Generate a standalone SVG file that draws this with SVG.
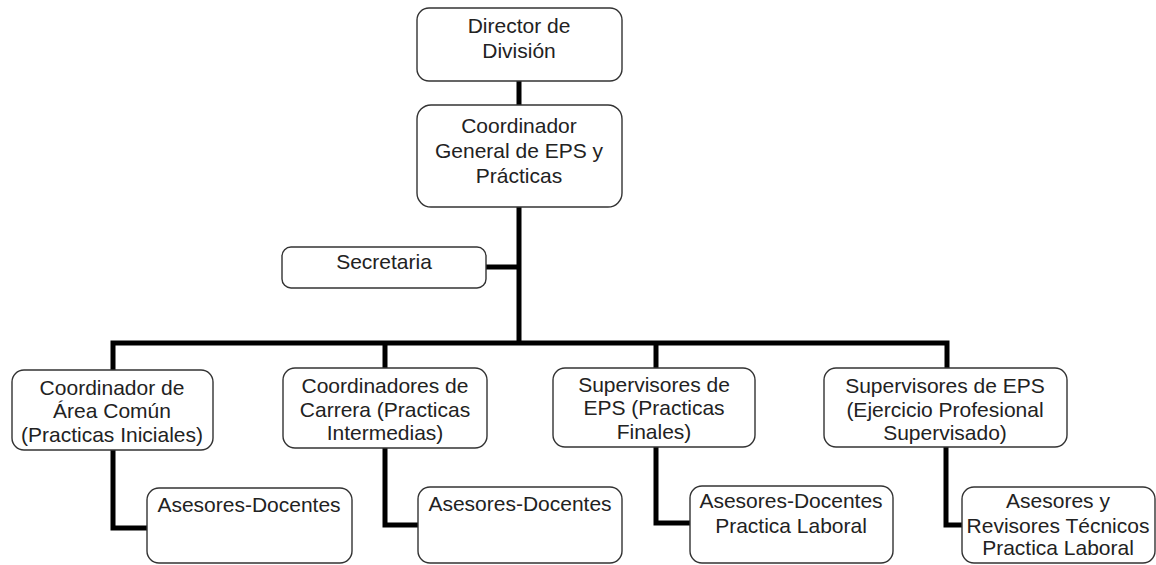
<svg xmlns="http://www.w3.org/2000/svg" width="1156" height="565" viewBox="0 0 1156 565">
<style>
.box{fill:#fff;stroke:#333;stroke-width:1.4}
.t{font-family:"Liberation Sans",Arial,sans-serif;font-size:21px;fill:#222;text-anchor:middle}
.c{fill:none;stroke:#000;stroke-width:5;stroke-linejoin:miter}
</style>
<rect width="1156" height="565" fill="#fff"/>
<g id="connectors">
<path class="c" d="M519 81V343"/>
<path class="c" d="M486 267H519"/>
<path class="c" d="M113 370V343H947V368"/>
<path class="c" d="M385 343V368"/>
<path class="c" d="M656 343V368"/>
<path class="c" d="M113 450V528H147"/>
<path class="c" d="M385 448V525H418"/>
<path class="c" d="M656 447V523H690"/>
<path class="c" d="M946 447V525H962"/>
</g>
<g id="director">
<rect class="box" x="417" y="8" width="205" height="73" rx="12"/>
<text class="t" x="519" y="33">Director de</text>
<text class="t" x="519" y="58">División</text>
</g>
<g id="coordinador-general">
<rect class="box" x="417" y="105" width="205" height="102" rx="14"/>
<text class="t" x="519" y="133">Coordinador</text>
<text class="t" x="519" y="158">General de EPS y</text>
<text class="t" x="519" y="183">Prácticas</text>
</g>
<g id="secretaria">
<rect class="box" x="282" y="247" width="204" height="41" rx="9"/>
<text class="t" x="384" y="269">Secretaria</text>
</g>
<g id="coord-area-comun">
<rect class="box" x="12" y="370" width="201" height="80" rx="12"/>
<text class="t" x="112" y="395">Coordinador de</text>
<text class="t" x="112" y="418">Área Común</text>
<text class="t" x="112" y="442">(Practicas Iniciales)</text>
</g>
<g id="coord-carrera">
<rect class="box" x="283" y="368" width="204" height="80" rx="12"/>
<text class="t" x="385" y="393">Coordinadores de</text>
<text class="t" x="385" y="417">Carrera (Practicas</text>
<text class="t" x="385" y="440">Intermedias)</text>
</g>
<g id="supervisores-finales">
<rect class="box" x="553" y="368" width="202" height="79" rx="12"/>
<text class="t" x="654" y="392">Supervisores de</text>
<text class="t" x="654" y="415">EPS (Practicas</text>
<text class="t" x="654" y="439">Finales)</text>
</g>
<g id="supervisores-eps">
<rect class="box" x="824" y="368" width="243" height="79" rx="12"/>
<text class="t" x="945" y="393">Supervisores de EPS</text>
<text class="t" x="945" y="417">(Ejercicio Profesional</text>
<text class="t" x="945" y="440">Supervisado)</text>
</g>
<g id="asesores-1">
<rect class="box" x="147" y="488" width="205" height="75" rx="12"/>
<text class="t" x="249" y="512">Asesores-Docentes</text>
</g>
<g id="asesores-2">
<rect class="box" x="418" y="487" width="204" height="76" rx="12"/>
<text class="t" x="520" y="511">Asesores-Docentes</text>
</g>
<g id="asesores-3">
<rect class="box" x="690" y="486" width="203" height="77" rx="12"/>
<text class="t" x="791" y="508">Asesores-Docentes</text>
<text class="t" x="791" y="533">Practica Laboral</text>
</g>
<g id="asesores-4">
<rect class="box" x="962" y="487" width="193" height="76" rx="12"/>
<text class="t" x="1058" y="508">Asesores y</text>
<text class="t" x="1058" y="533">Revisores Técnicos</text>
<text class="t" x="1058" y="555">Practica Laboral</text>
</g>
</svg>
